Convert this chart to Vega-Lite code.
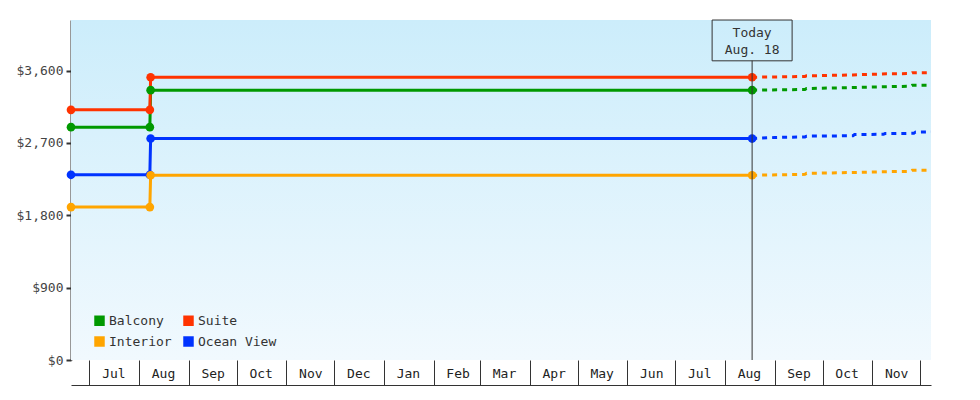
{
  "$schema": "https://vega.github.io/schema/vega-lite/v6.json",
  "width": 860,
  "height": 340,
  "autosize": {"type": "none"},
  "padding": {"left": 71, "top": 20, "right": 49, "bottom": 40},
  "background": "white",
  "config": {
    "view": {"stroke": null},
    "font": "DejaVu Sans Mono"
  },
  "datasets": {
    "bg": [{"date": "2023-06-19T12:00:00", "date2": "2024-12-07T18:00:00", "price": 4230, "price2": 0}],
    "hist": [
      {"room": "Balcony", "date": "2023-06-19T12:00:00", "price": 2897},
      {"room": "Balcony", "date": "2023-08-07T18:00:00", "price": 2897},
      {"room": "Balcony", "date": "2023-08-08T06:00:00", "price": 3357},
      {"room": "Balcony", "date": "2024-08-18T00:00:00", "price": 3357},
      {"room": "Suite", "date": "2023-06-19T12:00:00", "price": 3112},
      {"room": "Suite", "date": "2023-08-07T18:00:00", "price": 3112},
      {"room": "Suite", "date": "2023-08-08T06:00:00", "price": 3518},
      {"room": "Suite", "date": "2024-08-18T00:00:00", "price": 3518},
      {"room": "Interior", "date": "2023-06-19T12:00:00", "price": 1902},
      {"room": "Interior", "date": "2023-08-07T18:00:00", "price": 1902},
      {"room": "Interior", "date": "2023-08-08T06:00:00", "price": 2298},
      {"room": "Interior", "date": "2024-08-18T00:00:00", "price": 2298},
      {"room": "Ocean View", "date": "2023-06-19T12:00:00", "price": 2304},
      {"room": "Ocean View", "date": "2023-08-07T18:00:00", "price": 2304},
      {"room": "Ocean View", "date": "2023-08-08T06:00:00", "price": 2755},
      {"room": "Ocean View", "date": "2024-08-18T00:00:00", "price": 2755}
    ],
    "fcst": [
      {"room": "Suite", "date": "2024-08-18T00:00:00", "price": 3518},
      {"room": "Suite", "date": "2024-09-20T00:00:00", "price": 3527},
      {"room": "Suite", "date": "2024-09-21T00:00:00", "price": 3535},
      {"room": "Suite", "date": "2024-10-20T00:00:00", "price": 3547},
      {"room": "Suite", "date": "2024-11-10T00:00:00", "price": 3560},
      {"room": "Suite", "date": "2024-11-25T00:00:00", "price": 3564},
      {"room": "Suite", "date": "2024-11-26T00:00:00", "price": 3573},
      {"room": "Suite", "date": "2024-12-07T18:00:00", "price": 3575},
      {"room": "Balcony", "date": "2024-08-18T00:00:00", "price": 3357},
      {"room": "Balcony", "date": "2024-09-20T00:00:00", "price": 3365},
      {"room": "Balcony", "date": "2024-09-21T00:00:00", "price": 3377},
      {"room": "Balcony", "date": "2024-10-20T00:00:00", "price": 3390},
      {"room": "Balcony", "date": "2024-11-10T00:00:00", "price": 3400},
      {"room": "Balcony", "date": "2024-11-25T00:00:00", "price": 3406},
      {"room": "Balcony", "date": "2024-11-26T00:00:00", "price": 3418},
      {"room": "Balcony", "date": "2024-12-07T18:00:00", "price": 3420},
      {"room": "Ocean View", "date": "2024-08-18T00:00:00", "price": 2755},
      {"room": "Ocean View", "date": "2024-09-01T00:00:00", "price": 2768},
      {"room": "Ocean View", "date": "2024-09-20T00:00:00", "price": 2775},
      {"room": "Ocean View", "date": "2024-09-21T00:00:00", "price": 2785},
      {"room": "Ocean View", "date": "2024-10-20T00:00:00", "price": 2790},
      {"room": "Ocean View", "date": "2024-10-21T00:00:00", "price": 2805},
      {"room": "Ocean View", "date": "2024-11-08T00:00:00", "price": 2808},
      {"room": "Ocean View", "date": "2024-11-09T00:00:00", "price": 2817},
      {"room": "Ocean View", "date": "2024-11-27T00:00:00", "price": 2820},
      {"room": "Ocean View", "date": "2024-11-28T00:00:00", "price": 2835},
      {"room": "Ocean View", "date": "2024-12-07T18:00:00", "price": 2837},
      {"room": "Interior", "date": "2024-08-18T00:00:00", "price": 2298},
      {"room": "Interior", "date": "2024-09-20T00:00:00", "price": 2310},
      {"room": "Interior", "date": "2024-09-21T00:00:00", "price": 2322},
      {"room": "Interior", "date": "2024-10-20T00:00:00", "price": 2333},
      {"room": "Interior", "date": "2024-11-10T00:00:00", "price": 2343},
      {"room": "Interior", "date": "2024-11-25T00:00:00", "price": 2347},
      {"room": "Interior", "date": "2024-11-26T00:00:00", "price": 2360},
      {"room": "Interior", "date": "2024-12-07T18:00:00", "price": 2362}
    ],
    "today": [{"date": "2024-08-18T00:00:00", "price": 3725, "price2": 0, "boxy": 3976, "label": "Today\nAug. 18"}]
  },
  "encoding": {
    "x": {
      "field": "date",
      "type": "temporal",
      "scale": {"domain": [{"year": 2023, "month": 6, "date": 19, "hours": 12}, {"year": 2024, "month": 12, "date": 7, "hours": 18}]},
      "axis": {
        "title": null,
        "grid": false,
        "offset": 25,
        "domain": true,
        "domainColor": "#333",
        "domainWidth": 1,
        "values": [
          {"year": 2023, "month": 7, "date": 1}, {"year": 2023, "month": 8, "date": 1},
          {"year": 2023, "month": 9, "date": 1}, {"year": 2023, "month": 10, "date": 1},
          {"year": 2023, "month": 11, "date": 1}, {"year": 2023, "month": 12, "date": 1},
          {"year": 2024, "month": 1, "date": 1}, {"year": 2024, "month": 2, "date": 1},
          {"year": 2024, "month": 3, "date": 1}, {"year": 2024, "month": 4, "date": 1},
          {"year": 2024, "month": 5, "date": 1}, {"year": 2024, "month": 6, "date": 1},
          {"year": 2024, "month": 7, "date": 1}, {"year": 2024, "month": 8, "date": 1},
          {"year": 2024, "month": 9, "date": 1}, {"year": 2024, "month": 10, "date": 1},
          {"year": 2024, "month": 11, "date": 1}, {"year": 2024, "month": 12, "date": 1}
        ],
        "labelExpr": "year(datum.value) == 2024 && month(datum.value) == 11 ? '' : timeFormat(datum.value, '%b')",
        "tickSize": -25,
        "tickColor": "#333",
        "tickWidth": 1,
        "labelOffset": 24,
        "labelPadding": 13,
        "labelBaseline": "middle",
        "labelAlign": "center",
        "labelFlush": false,
        "labelOverlap": false,
        "labelBound": false,
        "labelFont": "DejaVu Sans Mono",
        "labelFontSize": 13,
        "labelColor": "#222"
      }
    },
    "y": {
      "field": "price",
      "type": "quantitative",
      "scale": {"domain": [0, 4230], "nice": false},
      "axis": {
        "title": null,
        "grid": false,
        "values": [0, 900, 1800, 2700, 3600],
        "format": "$,.0f",
        "domainColor": "#333",
        "domainWidth": 2,
        "tickColor": "#333",
        "tickWidth": 2,
        "tickSize": 5,
        "labelPadding": 3,
        "labelFont": "DejaVu Sans Mono",
        "labelFontSize": 13,
        "labelColor": "#444"
      }
    }
  },
  "layer": [
    {
      "data": {"name": "bg"},
      "mark": {
        "type": "rect",
        "fill": {
          "gradient": "linear",
          "x1": 0, "y1": 0, "x2": 0, "y2": 1,
          "stops": [{"offset": 0, "color": "#ccedfb"}, {"offset": 1, "color": "#f1f9fe"}]
        }
      },
      "encoding": {
        "x2": {"field": "date2"},
        "y2": {"field": "price2"}
      }
    },
    {
      "data": {"name": "hist"},
      "mark": {"type": "line", "strokeWidth": 3, "point": {"filled": true, "size": 75}},
      "encoding": {
        "color": {
          "field": "room",
          "type": "nominal",
          "scale": {"domain": ["Balcony", "Interior", "Suite", "Ocean View"], "range": ["#009900", "#ffa500", "#ff3300", "#0033ff"]},
          "legend": {
            "orient": "none",
            "legendX": 22,
            "legendY": 294,
            "columns": 2,
            "title": null,
            "padding": 0,
            "symbolType": "square",
            "symbolSize": 110,
            "symbolStrokeWidth": 0,
            "labelFont": "DejaVu Sans Mono",
            "labelFontSize": 13,
            "labelColor": "#333",
            "labelOffset": 3,
            "columnPadding": 10,
            "rowPadding": 7,
            "encode": {"symbols": {"update": {"fill": {"scale": "color", "field": "value"}, "opacity": {"value": 1}}}}
          }
        },
        "order": {"field": "date", "type": "temporal"}
      }
    },
    {
      "data": {"name": "fcst"},
      "mark": {"type": "line", "strokeWidth": 3, "strokeDash": [5, 5]},
      "encoding": {
        "color": {"field": "room", "type": "nominal", "legend": null}
      }
    },
    {
      "data": {"name": "today"},
      "mark": {"type": "rule", "color": "#333", "strokeWidth": 1},
      "encoding": {
        "y2": {"field": "price2"}
      }
    },
    {
      "data": {"name": "today"},
      "mark": {"type": "point", "shape": "M-1,-0.51H1V0.51H-1Z", "size": 6400, "filled": false, "stroke": "#333", "strokeWidth": 1, "opacity": 1},
      "encoding": {
        "y": {"field": "boxy", "type": "quantitative"}
      }
    },
    {
      "data": {"name": "today"},
      "mark": {"type": "text", "lineBreak": "\n", "lineHeight": 17, "dy": -7, "font": "DejaVu Sans Mono", "fontSize": 13, "color": "#333", "align": "center", "baseline": "middle"},
      "encoding": {
        "y": {"field": "boxy", "type": "quantitative"},
        "text": {"field": "label"}
      }
    }
  ]
}
